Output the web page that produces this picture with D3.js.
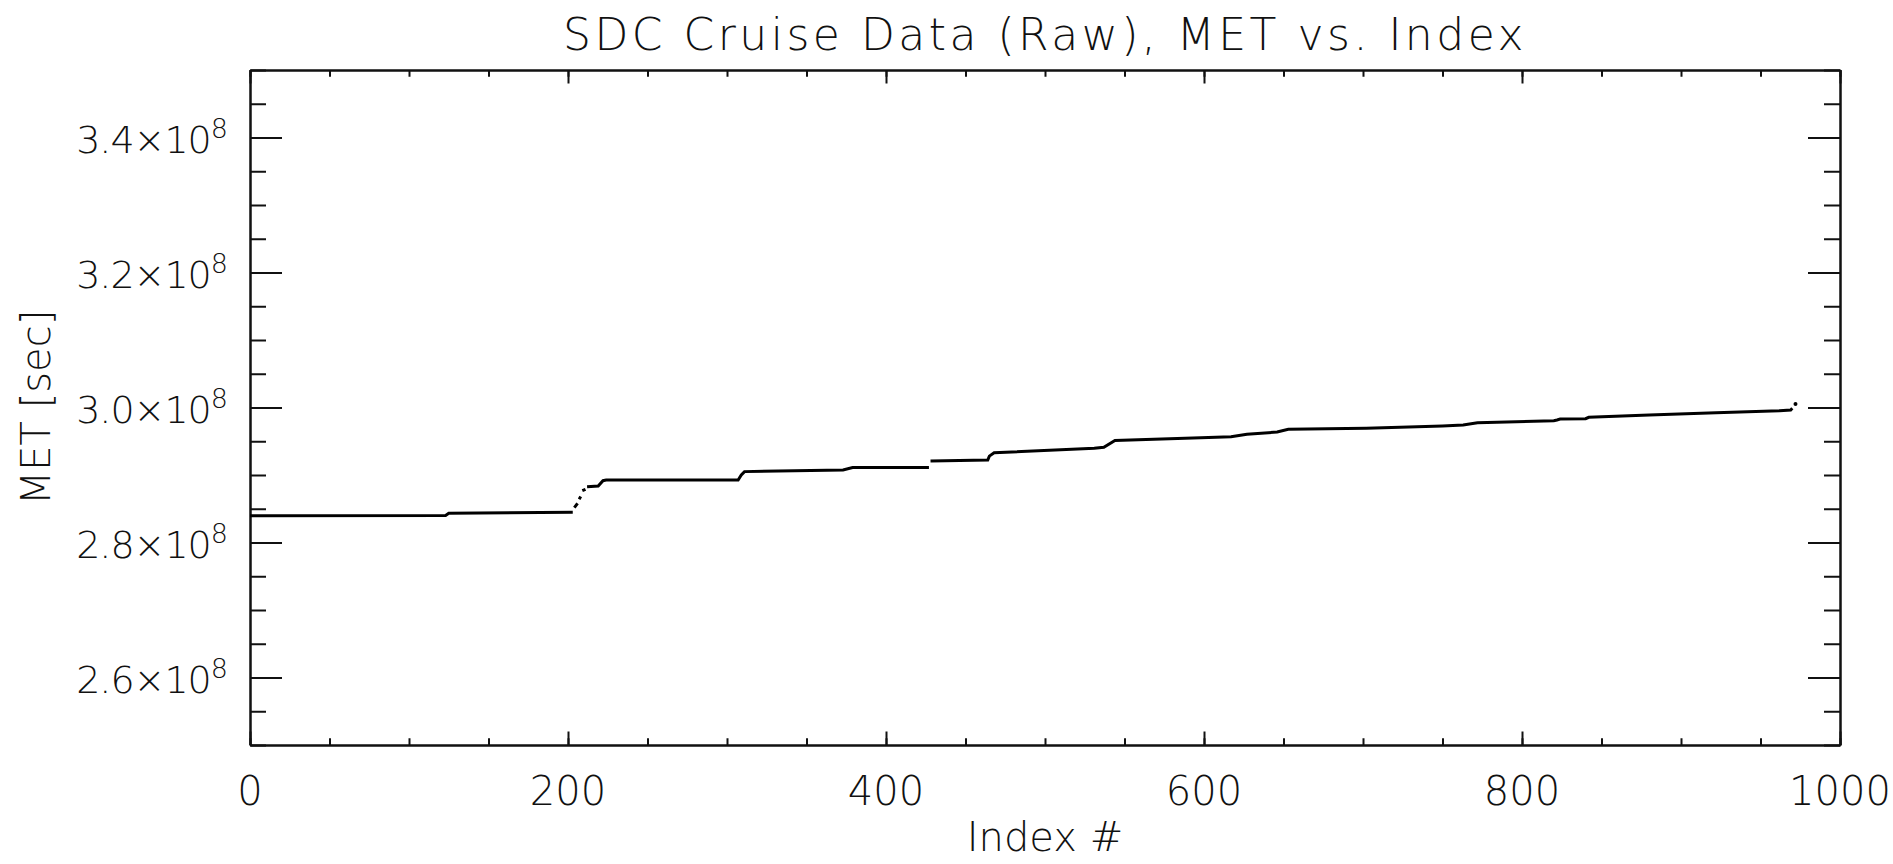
<!DOCTYPE html>
<html>
<head>
<meta charset="utf-8">
<script src="https://cdn.jsdelivr.net/npm/d3@7"></script>
<style>
    body { margin: 0; background: #fff; }
    text { font-family: "DejaVu Sans", sans-serif; font-weight: 200; fill: #111; }
</style>
</head>
<body>
<div id="chart"></div>
<script>
// Index # vs MET (null = gap between runs of points)
const indexNum = [0, 123, 125, 203, null, 204, 206, null, 207, 208, null, 209, 211, null,
    212, 219, 222, 224, 307, 309, 311, 373, 379, 427, null,
    428, 464, 465, 468, 531, 537, 544, 598, 617, 627, 646, 653, 702, 750, 763, 772,
    820, 822, 824, 840, 842, 880, 922, 962, 969, 970, null, 972];
const metSec = [2.8397e8, 2.8400e8, 2.8432e8, 2.8447e8, null, 2.8516e8, 2.8580e8, null, 2.8640e8, 2.8680e8, null, 2.8768e8, 2.8788e8, null,
    2.8827e8, 2.8837e8, 2.8916e8, 2.8926e8, 2.8926e8, 2.9000e8, 2.9050e8, 2.9074e8, 2.9111e8, 2.9111e8, null,
    2.9207e8, 2.9222e8, 2.9280e8, 2.9330e8, 2.9395e8, 2.9410e8, 2.9511e8, 2.9553e8, 2.9568e8, 2.9603e8, 2.9637e8, 2.9677e8, 2.9692e8, 2.9726e8, 2.9740e8, 2.9775e8,
    2.9805e8, 2.9815e8, 2.9828e8, 2.9834e8, 2.9855e8, 2.9889e8, 2.9923e8, 2.9951e8, 2.9963e8, 2.9988e8, null, 3.0052e8];

// Axis ticks
const xMajor = [0, 200, 400, 600, 800, 1000];
const xMinor = d3.range(0, 1001, 50);
const yMajor = [2.6e8, 2.8e8, 3.0e8, 3.2e8, 3.4e8];
const yMajorLabels = ["2.6", "2.8", "3.0", "3.2", "3.4"];
const yMinor = d3.range(2.5e8, 3.5e8 + 1, 0.05e8);

// SVG setup
let svgWidth = 1893;
let svgHeight = 864;
let margin = { top: 70, bottom: 119, left: 250, right: 53 };
let width = svgWidth - margin.left - margin.right;
let height = svgHeight - margin.top - margin.bottom;

let svg = d3.select("#chart")
    .append("svg")
    .attr("width", svgWidth)
    .attr("height", svgHeight);

let chartGroup = svg.append("g")
    .attr("transform", `translate(${margin.left},${margin.top})`);

let xScale = d3.scaleLinear().domain([0, 1000]).range([0, width]);
let yScale = d3.scaleLinear().domain([2.5e8, 3.5e8]).range([height, 0]);

// IDL style: ticks inward on all four sides, minor ticks half length
let xLen = 13.5, yLen = 32;
function drawAxis(axisFn, scale, major, minor, len, transform) {
    let g = chartGroup.append("g").attr("transform", transform);
    g.call(axisFn(scale).tickValues(minor).tickSize(-len / 2).tickFormat("").tickSizeOuter(0));
    let g2 = chartGroup.append("g").attr("transform", transform);
    g2.call(axisFn(scale).tickValues(major).tickSize(-len).tickFormat("").tickSizeOuter(0));
    [g, g2].forEach(a => {
        a.selectAll("line").attr("stroke", "#111").attr("stroke-width", 2);
        a.select(".domain").attr("stroke", "#111").attr("stroke-width", 2);
    });
}
drawAxis(d3.axisBottom, xScale, xMajor, xMinor, xLen, `translate(0,${height})`);
drawAxis(d3.axisTop, xScale, xMajor, xMinor, xLen, "translate(0,0)");
drawAxis(d3.axisLeft, yScale, yMajor, yMinor, yLen, "translate(0,0)");
drawAxis(d3.axisRight, yScale, yMajor, yMinor, yLen, `translate(${width},0)`);

// X tick labels
chartGroup.selectAll(".xlab")
    .data(xMajor)
    .enter()
    .append("text")
    .attr("x", d => xScale(d))
    .attr("y", height + 60)
    .attr("font-size", "40px")
    .style("text-anchor", "middle")
    .text(d => d);

// Y tick labels with x10^8
let ylab = chartGroup.selectAll(".ylab")
    .data(yMajor)
    .enter()
    .append("text")
    .attr("x", -23)
    .attr("y", d => yScale(d) + 15)
    .attr("font-size", "38px")
    .attr("letter-spacing", "-1px")
    .style("text-anchor", "end");
ylab.append("tspan").text((d, i) => yMajorLabels[i] + "\u00d710");
ylab.append("tspan").attr("dy", "-0.55em").attr("font-size", "27px").text("8");

// Data line
let pts = indexNum.map((x, i) => ({ x: x, y: metSec[i] }));
let line = d3.line()
    .defined(d => d.y !== null)
    .x(d => xScale(d.x))
    .y(d => yScale(d.y));
chartGroup.append("path")
    .datum(pts)
    .attr("d", line)
    .attr("fill", "none")
    .attr("stroke", "#000")
    .attr("stroke-width", 3);

// isolated points
let lone = pts.filter((d, i) => d.y !== null &&
    (i === 0 || pts[i - 1].y === null) && (i === pts.length - 1 || pts[i + 1].y === null));
chartGroup.selectAll(".lone")
    .data(lone)
    .enter()
    .append("circle")
    .attr("cx", d => xScale(d.x))
    .attr("cy", d => yScale(d.y))
    .attr("r", 2)
    .attr("fill", "#000");

// Title
svg.append("text")
    .attr("x", margin.left + width / 2)
    .attr("y", 50)
    .attr("font-size", "44px")
    .attr("letter-spacing", "3.5px")
    .style("text-anchor", "middle")
    .text("SDC Cruise Data (Raw), MET vs. Index");

// X axis title
chartGroup.append("text")
    .attr("x", width / 2)
    .attr("y", height + 106)
    .attr("font-size", "40px")
    .style("text-anchor", "middle")
    .text("Index #");

// Y axis title
chartGroup.append("text")
    .attr("transform", "rotate(-90)")
    .attr("x", -height / 2)
    .attr("y", -200)
    .attr("font-size", "40px")
    .style("text-anchor", "middle")
    .text("MET [sec]");
</script>
</body>
</html>
